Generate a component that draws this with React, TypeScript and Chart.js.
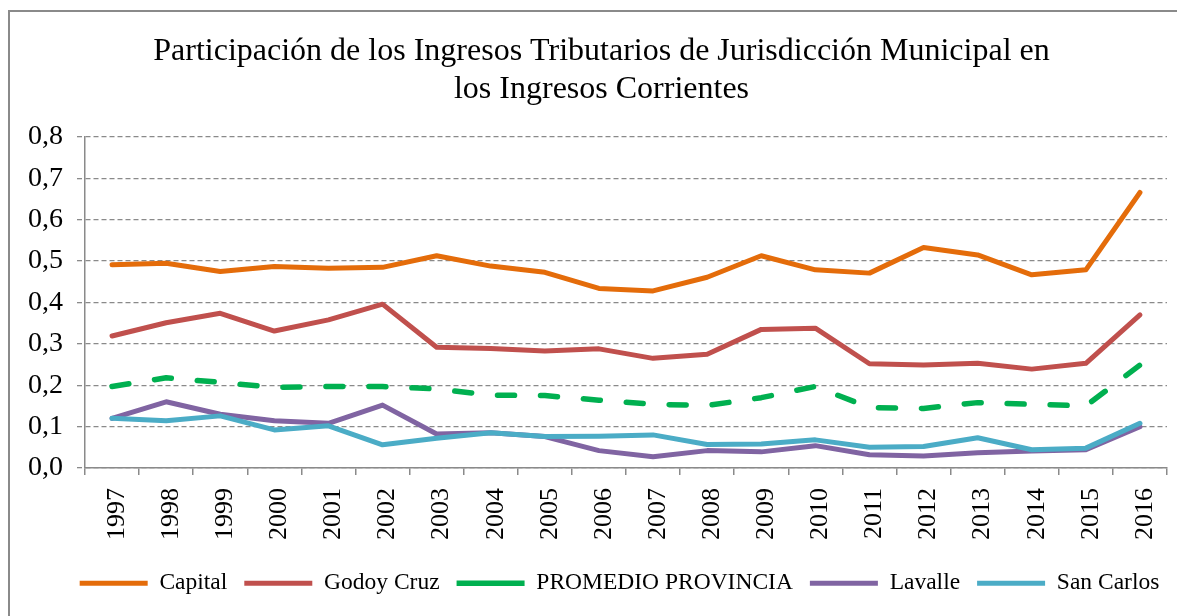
import React, { useEffect, useRef } from 'react';
import { Chart, registerables } from 'chart.js';

Chart.register(...registerables);

const titleLines = [
  'Participación de los Ingresos Tributarios de Jurisdicción Municipal en',
  'los Ingresos Corrientes',
];

const years = ['1997', '1998', '1999', '2000', '2001', '2002', '2003', '2004', '2005', '2006',
  '2007', '2008', '2009', '2010', '2011', '2012', '2013', '2014', '2015', '2016'];

const capital = [0.491, 0.495, 0.475, 0.487, 0.483, 0.485, 0.513, 0.488, 0.473, 0.434,
  0.428, 0.461, 0.513, 0.479, 0.471, 0.533, 0.515, 0.467, 0.479, 0.666];
const godoyCruz = [0.319, 0.351, 0.374, 0.331, 0.358, 0.396, 0.292, 0.289, 0.283, 0.288,
  0.265, 0.275, 0.335, 0.338, 0.252, 0.249, 0.253, 0.239, 0.253, 0.370];
const promedioProvincia = [0.197, 0.218, 0.207, 0.195, 0.197, 0.197, 0.191, 0.176, 0.175, 0.164,
  0.154, 0.151, 0.170, 0.197, 0.146, 0.144, 0.158, 0.154, 0.150, 0.249];
const lavalle = [0.120, 0.160, 0.130, 0.114, 0.108, 0.152, 0.082, 0.085, 0.076, 0.042,
  0.027, 0.042, 0.039, 0.054, 0.032, 0.029, 0.037, 0.041, 0.044, 0.100];
const sanCarlos = [0.120, 0.114, 0.126, 0.092, 0.102, 0.056, 0.072, 0.085, 0.076, 0.077,
  0.080, 0.057, 0.058, 0.068, 0.050, 0.052, 0.073, 0.044, 0.048, 0.108];

const seriesNames = ['Capital', 'Godoy Cruz', 'PROMEDIO PROVINCIA', 'Lavalle', 'San Carlos'];
const seriesColors = ['#E46C0A', '#C0504D', '#00B050', '#8064A2', '#4BACC6'];

const W = 1177;
const H = 608;
const FONT = "'Liberation Serif', 'Times New Roman', serif";
const GRAY = '#8a8a8a';

export default function App() {
  const ref = useRef<HTMLCanvasElement>(null);

  useEffect(() => {
    const canvas = ref.current;
    if (!canvas) return;

    const framePlugin = {
      id: 'frame',
      beforeDraw(chart: any) {
        const ctx = chart.ctx;
        ctx.save();
        ctx.strokeStyle = GRAY;
        ctx.lineWidth = 2;
        ctx.beginPath();
        ctx.moveTo(1, H);
        ctx.lineTo(1, 3);
        ctx.lineTo(W, 3);
        ctx.stroke();
        ctx.restore();
      },
    };

    const blockShift = {
      id: 'blockShift',
      afterLayout(chart: any) {
        const t = chart.titleBlock;
        if (t) {
          t.left += 14;
          t.right += 14;
        }
        const l = chart.legend;
        if (l) {
          l.left += 32;
          l.right += 32;
        }
      },
    };

    const values = [capital, godoyCruz, promedioProvincia, lavalle, sanCarlos];
    const datasets = values.map((data, i) => ({
      label: seriesNames[i],
      data,
      borderColor: seriesColors[i],
      backgroundColor: seriesColors[i],
      borderWidth: i === 2 ? 5.5 : 5,
      borderDash: i === 2 ? [17, 26] : [],
      borderCapStyle: 'round',
      borderJoinStyle: 'round',
      pointRadius: 0,
      tension: 0,
      fill: false,
      order: 5 - i,
    }));

    const chart = new Chart(canvas, {
      type: 'line',
      data: { labels: years, datasets: datasets as any },
      plugins: [framePlugin, blockShift],
      options: {
        responsive: false,
        animation: false,
        devicePixelRatio: 1,
        layout: { padding: { left: 0, right: 18, top: 3, bottom: 11 } },
        plugins: {
          title: {
            display: true,
            text: titleLines,
            color: '#000',
            font: { family: FONT, size: 32, weight: 'normal', lineHeight: 38 / 32 },
            padding: { top: 22, bottom: 28 },
          },
          legend: {
            display: true,
            position: 'bottom',
            labels: {
              color: '#000',
              font: { family: FONT, size: 23.5 },
              usePointStyle: true,
              pointStyle: 'line',
              pointStyleWidth: 68,
              padding: 17,
              sort: (a: any, b: any) => a.datasetIndex - b.datasetIndex,
            },
          },
          tooltip: { enabled: false },
        },
        scales: {
          x: {
            type: 'category',
            offset: true,
            afterFit: (s: any) => { s.height = 86.5; },
            grid: {
              display: true,
              offset: true,
              drawOnChartArea: false,
              color: GRAY,
              lineWidth: 1.5,
              tickLength: 7,
            },
            border: { display: true, color: GRAY, width: 1.5 },
            ticks: {
              color: '#000',
              font: { family: FONT, size: 26 },
              maxRotation: 90,
              minRotation: 90,
              autoSkip: false,
              padding: 13,
              labelOffset: 5,
            },
          },
          y: {
            min: 0,
            max: 0.8,
            afterFit: (s: any) => { s.width = 77; },
            grid: {
              color: GRAY,
              lineWidth: 1.3,
              tickLength: 8,
              tickBorderDash: [5, 3],
            },
            border: { display: true, color: GRAY, width: 1.5, dash: [5, 3] },
            ticks: {
              stepSize: 0.1,
              color: '#000',
              font: { family: FONT, size: 28 },
              padding: 14,
              callback: (v: any) => Number(v).toFixed(1).replace('.', ','),
            },
          },
        },
      } as any,
    });

    return () => chart.destroy();
  }, []);

  return (
    <div style={{ width: W, height: H }}>
      <canvas ref={ref} width={W} height={H} style={{ display: 'block' }} />
    </div>
  );
}
